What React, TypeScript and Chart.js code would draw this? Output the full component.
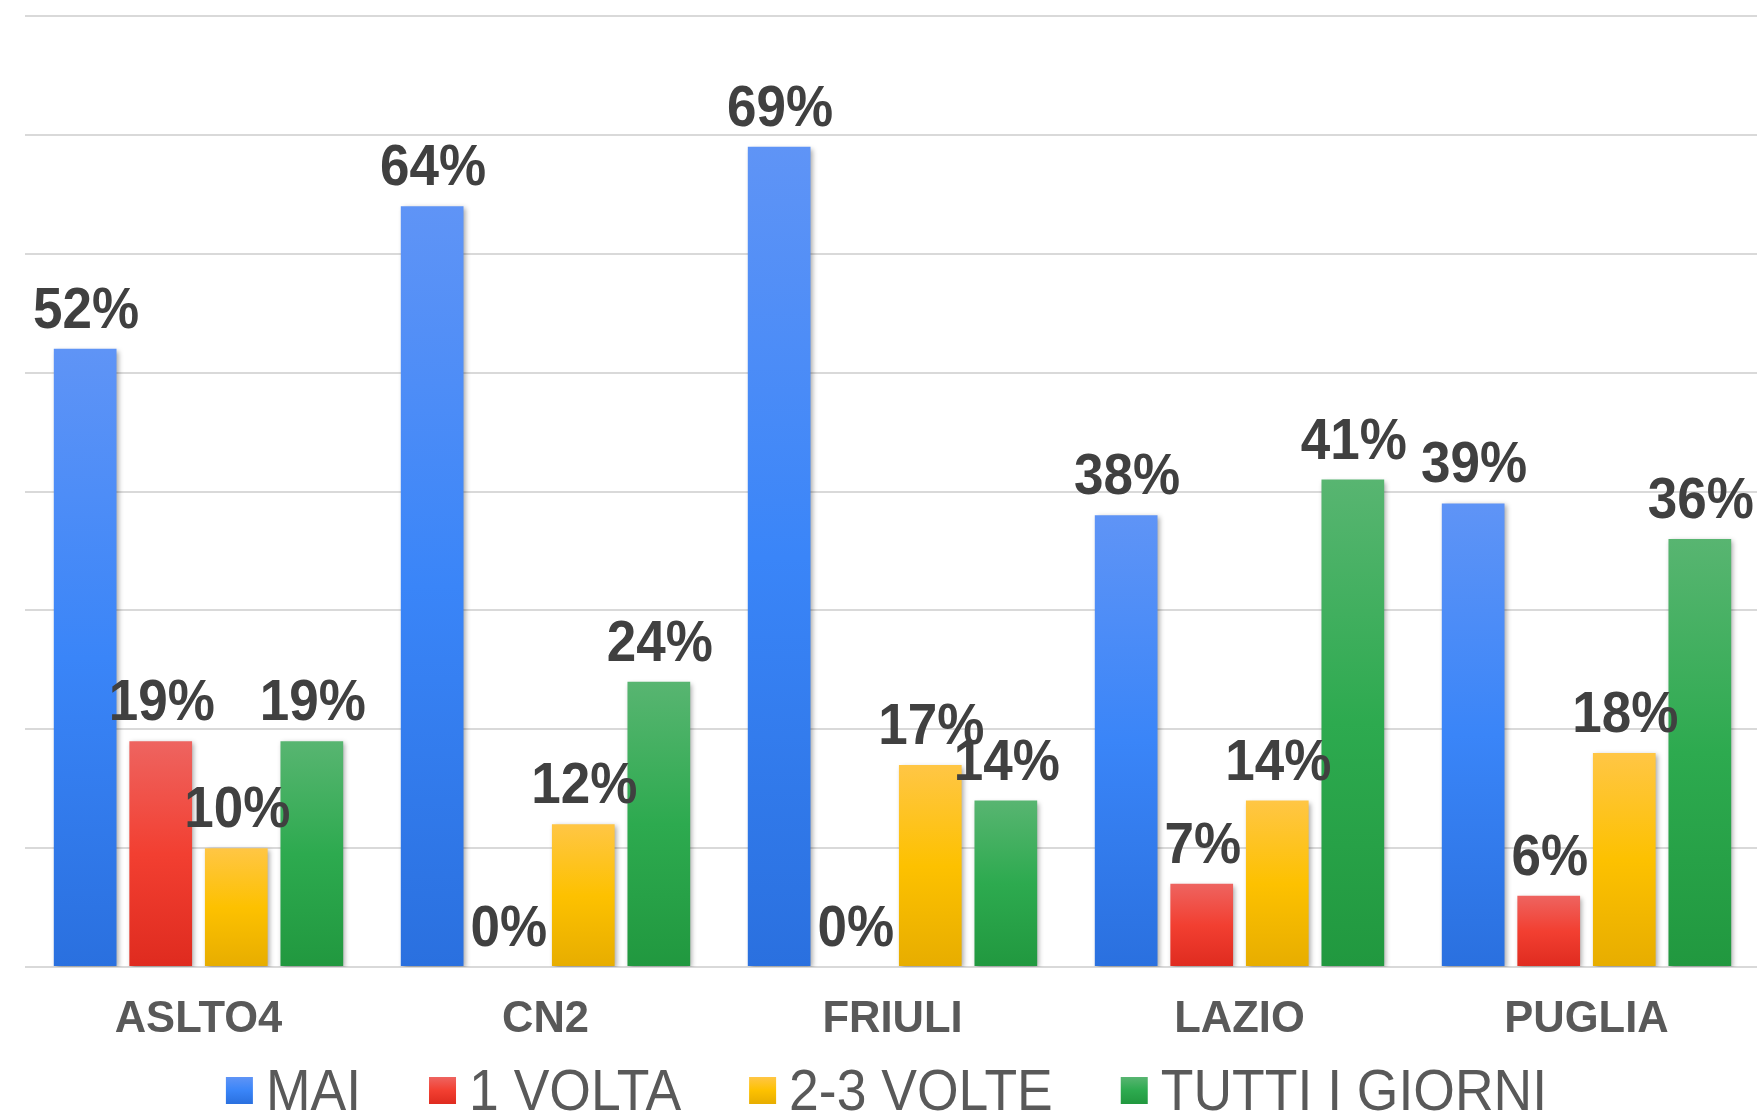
import React, { useEffect, useRef } from "react";
import { Chart, registerables } from "chart.js";

Chart.register(...registerables);

const categories = ["ASLTO4", "CN2", "FRIULI", "LAZIO", "PUGLIA"];
const seriesNames = ["MAI", "1 VOLTA", "2-3 VOLTE", "TUTTI I GIORNI"];
const mai = [52, 64, 69, 38, 39];
const unaVolta = [19, 0, 0, 7, 6];
const dueTreVolte = [10, 12, 17, 14, 18];
const tuttiIGiorni = [19, 24, 14, 41, 36];
const yTicks = [0, 10, 20, 30, 40, 50, 60, 70, 80];

// gradient stops: top, middle, bottom
const palettes = [
  ["#5F94F6", "#3A85F8", "#2A70DF"],
  ["#EE6460", "#F23F31", "#DF2B1F"],
  ["#FFC645", "#FDC100", "#E7AD00"],
  ["#58B571", "#2DAA4F", "#21983F"],
];

const FONT = "'Liberation Sans', Arial, Helvetica, sans-serif";
const STRETCH = 1.07;

function makeGradient(ctx: CanvasRenderingContext2D, top: number, bottom: number, pal: string[]) {
  const g = ctx.createLinearGradient(0, top, 0, bottom);
  g.addColorStop(0, pal[0]);
  g.addColorStop(0.5, pal[1]);
  g.addColorStop(1, pal[2]);
  return g;
}

const shadowPlugin = {
  id: "barShadow",
  beforeDatasetsDraw(chart: any) {
    const ctx = chart.ctx;
    ctx.save();
    ctx.shadowColor = "rgba(0,0,0,0.35)";
    ctx.shadowBlur = 5;
    ctx.shadowOffsetX = 2;
    ctx.shadowOffsetY = 2;
  },
  afterDatasetsDraw(chart: any) {
    chart.ctx.restore();
  },
};

const labelPlugin = {
  id: "valueLabels",
  afterDraw(chart: any) {
    const ctx = chart.ctx;
    ctx.save();
    ctx.font = `bold 53px ${FONT}`;
    ctx.fillStyle = "#404040";
    ctx.textAlign = "center";
    ctx.textBaseline = "alphabetic";
    chart.data.datasets.forEach((ds: any, di: number) => {
      const meta = chart.getDatasetMeta(di);
      meta.data.forEach((el: any, i: number) => {
        const v = ds.data[i];
        ctx.save();
        ctx.translate(el.x + 1, el.y - 21);
        ctx.scale(1, STRETCH);
        ctx.fillText(`${v}%`, 0, 0);
        ctx.restore();
      });
    });

    // legend
    const area = chart.chartArea;
    ctx.font = `53.5px ${FONT}`;
    ctx.textAlign = "left";
    const box = 27;
    const boxGap = 13;
    const itemGap = 68;
    const widths = seriesNames.map((n) => box + boxGap + ctx.measureText(n).width);
    const total = widths.reduce((a, b) => a + b, 0) + itemGap * (seriesNames.length - 1);
    let x = (area.left + area.right) / 2 - total / 2 - 6;
    const boxTop = 1077;
    const baseY = 1110;
    seriesNames.forEach((n, i) => {
      ctx.fillStyle = makeGradient(ctx, boxTop, boxTop + box, palettes[i]);
      ctx.fillRect(x, boxTop, box, box);
      ctx.fillStyle = "#595959";
      ctx.save();
      ctx.translate(x + box + boxGap, baseY);
      ctx.scale(1, STRETCH);
      ctx.fillText(n, 0, 0);
      ctx.restore();
      x += widths[i] + itemGap;
    });
    ctx.restore();
  },
};

export default function App() {
  const ref = useRef<HTMLCanvasElement | null>(null);
  useEffect(() => {
    if (!ref.current) return;
    const series = [mai, unaVolta, dueTreVolte, tuttiIGiorni];
    const chart = new Chart(ref.current, {
      type: "bar",
      data: {
        labels: categories,
        datasets: series.map((data, i) => ({
          label: seriesNames[i],
          data,
          backgroundColor: (c: any) => {
            const ch = c.chart;
            if (!ch.chartArea || c.raw == null) return palettes[i][1];
            const ys = ch.scales.y;
            const top = ys.getPixelForValue(c.raw);
            const bottom = ys.getPixelForValue(0);
            if (bottom - top < 1) return palettes[i][1];
            return makeGradient(ch.ctx, top, bottom, palettes[i]);
          },
          borderWidth: 0,
          categoryPercentage: 0.871,
          barPercentage: 0.83,
        })),
      },
      options: {
        animation: false,
        responsive: false,
        maintainAspectRatio: false,
        layout: { padding: { left: 25, right: 0, top: 16, bottom: 0 } },
        plugins: {
          legend: { display: false },
          tooltip: { enabled: false },
          title: { display: false },
        },
        scales: {
          x: {
            grid: { display: false, drawTicks: false },
            border: { display: false },
            ticks: {
              color: "#595959",
              font: { family: FONT, size: 43.5, weight: "bold" },
              padding: 27,
              maxRotation: 0,
            },
            afterFit: (s: any) => {
              s.height = 146;
            },
          },
          y: {
            min: 0,
            max: 80,
            afterBuildTicks: (s: any) => {
              s.ticks = yTicks.map((v) => ({ value: v }));
            },
            ticks: { display: false },
            border: { display: false },
            grid: { color: "#d9d9d9", lineWidth: 2, drawTicks: false },
            afterFit: (s: any) => {
              s.width = 0;
            },
          },
        },
      },
      plugins: [shadowPlugin, labelPlugin],
    });
    return () => chart.destroy();
  }, []);
  return (
    <div style={{ position: "absolute", left: 0, top: 0, width: 1757, height: 1113, overflow: "hidden", background: "#fff" }}>
      <canvas ref={ref} width={1760} height={1113} style={{ display: "block" }} />
    </div>
  );
}
